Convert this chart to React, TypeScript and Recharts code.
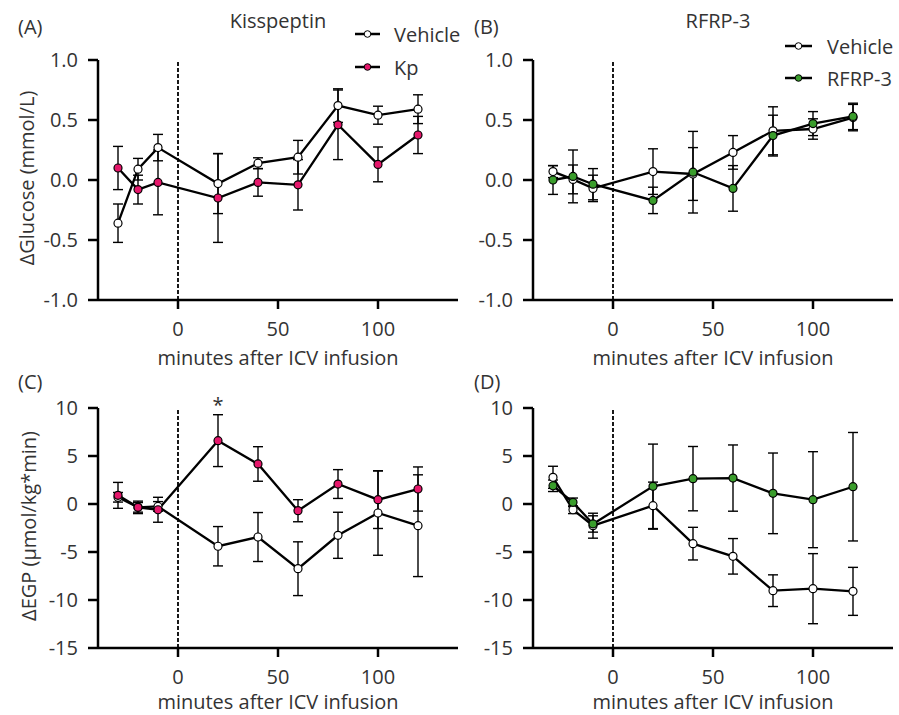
import React from 'react';
import { LineChart, Line, XAxis, YAxis, ErrorBar, ReferenceLine, Legend } from 'recharts';

// ---- data ----
const minutes = [-30, -20, -10, 20, 40, 60, 80, 100, 120];

// (A) Kisspeptin – ΔGlucose
const glucVehA = [-0.36, 0.09, 0.27, -0.03, 0.14, 0.19, 0.62, 0.54, 0.59];
const glucVehAErr = [0.16, 0.09, 0.11, 0.25, 0.045, 0.14, 0.14, 0.075, 0.12];
const glucKp = [0.1, -0.08, -0.02, -0.15, -0.02, -0.04, 0.46, 0.13, 0.375];
const glucKpErr = [0.18, 0.12, 0.27, 0.37, 0.115, 0.21, 0.29, 0.145, 0.155];

// (B) RFRP-3 – ΔGlucose
const glucVehB = [0.07, 0.005, -0.07, 0.07, 0.05, 0.23, 0.41, 0.425, 0.52];
const glucVehBErr = [0.05, 0.12, 0.11, 0.19, 0.22, 0.14, 0.2, 0.085, 0.11];
const glucRfrp = [0.0, 0.03, -0.035, -0.17, 0.065, -0.07, 0.37, 0.47, 0.53];
const glucRfrpErr = [0.12, 0.22, 0.13, 0.11, 0.34, 0.19, 0.17, 0.1, 0.11];

// (C) Kisspeptin – ΔEGP
const egpVehC = [0.7, -0.35, -0.25, -4.4, -3.44, -6.74, -3.26, -0.94, -2.26];
const egpVehCErr = [0.5, 0.5, 0.5, 2.05, 2.55, 2.8, 2.4, 4.4, 5.3];
const egpKp = [0.9, -0.35, -0.6, 6.6, 4.17, -0.7, 2.08, 0.45, 1.56];
const egpKpErr = [1.35, 0.65, 1.3, 2.7, 1.8, 1.15, 1.5, 3.0, 2.3];

// (D) RFRP-3 – ΔEGP
const egpVehD = [2.78, -0.6, -2.26, -0.17, -4.13, -5.45, -9.03, -8.82, -9.1];
const egpVehDErr = [1.15, 0.4, 1.3, 2.45, 1.7, 1.85, 1.65, 3.65, 2.5];
const egpRfrp = [1.9, 0.17, -2.08, 1.84, 2.64, 2.7, 1.11, 0.45, 1.8];
const egpRfrpErr = [0.6, 0.45, 0.85, 4.4, 3.35, 3.45, 4.2, 5.0, 5.65];

const xTicks = [0, 50, 100];
const glucoseTicks = [-1, -0.5, 0, 0.5, 1];
const egpTicks = [-15, -10, -5, 0, 5, 10];

const legendKp = ['Vehicle', 'Kp'];
const legendRfrp = ['Vehicle', 'RFRP-3'];

// ---- styles ----
const FONT = "'Open Sans', 'Noto Sans', sans-serif";
const TEXT = '#333';
const PINK = '#e5176b';
const GREEN = '#3a9d2c';
const FS = 20;

type Row = { t: number; veh: number; vehErr: number; trt: number; trtErr: number };

function buildRows(veh: number[], vehErr: number[], trt: number[], trtErr: number[]): Row[] {
  return minutes.map((t, i) => ({ t, veh: veh[i], vehErr: vehErr[i], trt: trt[i], trtErr: trtErr[i] }));
}

const LegendBox = ({ labels, fill, lineX, textX, rows }: { labels: string[]; fill: string; lineX: [number, number]; textX: number; rows: number[] }) => (
  <svg width={130} height={80} style={{ overflow: 'visible' }}>
    {labels.map((lab, i) => (
      <g key={lab}>
        <line x1={lineX[0]} x2={lineX[1]} y1={rows[i]} y2={rows[i]} stroke="#000" strokeWidth={2.5} />
        <circle cx={(lineX[0] + lineX[1]) / 2} cy={rows[i]} r={3.3} fill={i === 0 ? '#fff' : fill} stroke="#000" strokeWidth={1} />
        <text x={textX} y={rows[i] + 8} fontSize={FS} fill={TEXT} fontFamily={FONT}>
          {lab}
        </text>
      </g>
    ))}
  </svg>
);

type PanelProps = {
  left: number;
  top: number;
  rows: Row[];
  color: string;
  domain: [number, number];
  ticks: number[];
  fmt: (v: number) => string;
  legend?: { labels: string[]; left: number; top: number; lineX: [number, number]; textX: number; rows: number[] };
};

function Panel({ left, top, rows, color, domain, ticks, fmt, legend }: PanelProps) {
  const tickStyle = { fontSize: FS, fill: TEXT, fontFamily: FONT };
  return (
    <div style={{ position: 'absolute', left, top }}>
      <LineChart width={460} height={360} data={rows} margin={{ top: 60, right: 2, bottom: 0, left: 38 }}>
        <XAxis
          dataKey="t"
          type="number"
          domain={[-40, 140]}
          ticks={xTicks}
          allowDataOverflow
          height={60}
          axisLine={{ stroke: '#000', strokeWidth: 2.5 }}
          tickLine={{ stroke: '#000', strokeWidth: 2.5 }}
          tickSize={9}
          tickMargin={13}
          tick={tickStyle}
        />
        <YAxis
          type="number"
          domain={domain}
          ticks={ticks}
          allowDataOverflow
          tickFormatter={fmt}
          width={60}
          axisLine={{ stroke: '#000', strokeWidth: 2.5 }}
          tickLine={{ stroke: '#000', strokeWidth: 2.5 }}
          tickSize={10}
          tickMargin={10}
          tick={tickStyle}
        />
        <ReferenceLine x={0} stroke="#000" strokeWidth={1.8} strokeDasharray="4 2" />
        <Line
          dataKey="veh"
          type="linear"
          stroke="#000"
          strokeWidth={2.3}
          dot={{ r: 4, fill: '#fff', stroke: '#000', strokeWidth: 1.2 }}
          activeDot={false}
          isAnimationActive={false}
        >
          <ErrorBar dataKey="vehErr" direction="y" width={5} stroke="#000" strokeWidth={1.4} isAnimationActive={false} />
        </Line>
        <Line
          dataKey="trt"
          type="linear"
          stroke="#000"
          strokeWidth={2.3}
          dot={{ r: 4, fill: color, stroke: '#000', strokeWidth: 1.2 }}
          activeDot={false}
          isAnimationActive={false}
        >
          <ErrorBar dataKey="trtErr" direction="y" width={5} stroke="#000" strokeWidth={1.4} isAnimationActive={false} />
        </Line>
        {legend && (
          <Legend
            layout="horizontal"
            align="center"
            verticalAlign="middle"
            wrapperStyle={{ position: 'absolute', left: legend.left, top: legend.top, width: 130, height: 80, bottom: 'auto', right: 'auto' }}
            content={() => (
              <LegendBox labels={legend.labels} fill={color} lineX={legend.lineX} textX={legend.textX} rows={legend.rows} />
            )}
          />
        )}
      </LineChart>
    </div>
  );
}

const fmt1 = (v: number) => v.toFixed(1);
const fmt0 = (v: number) => String(v);

export default function App() {
  const rowsA = buildRows(glucVehA, glucVehAErr, glucKp, glucKpErr);
  const rowsB = buildRows(glucVehB, glucVehBErr, glucRfrp, glucRfrpErr);
  const rowsC = buildRows(egpVehC, egpVehCErr, egpKp, egpKpErr);
  const rowsD = buildRows(egpVehD, egpVehDErr, egpRfrp, egpRfrpErr);
  const t = { fontSize: FS, fill: TEXT, fontFamily: FONT } as const;
  return (
    <div style={{ position: 'absolute', left: 0, top: 0, width: 899, height: 715, background: '#fff', fontFamily: FONT, overflow: 'hidden' }}>
      <Panel
        left={0}
        top={0}
        rows={rowsA}
        color={PINK}
        domain={[-1, 1]}
        ticks={glucoseTicks}
        fmt={fmt1}
        legend={{ labels: legendKp, left: 350, top: 15, lineX: [5, 30], textX: 44, rows: [19, 52] }}
      />
      <Panel
        left={435}
        top={0}
        rows={rowsB}
        color={GREEN}
        domain={[-1, 1]}
        ticks={glucoseTicks}
        fmt={fmt1}
        legend={{ labels: legendRfrp, left: 345, top: 28, lineX: [5, 32], textX: 47, rows: [18, 50] }}
      />
      <Panel left={0} top={348} rows={rowsC} color={PINK} domain={[-15, 10]} ticks={egpTicks} fmt={fmt0} />
      <Panel left={435} top={348} rows={rowsD} color={GREEN} domain={[-15, 10]} ticks={egpTicks} fmt={fmt0} />
      <svg width={899} height={715} style={{ position: 'absolute', left: 0, top: 0, pointerEvents: 'none' }}>
        <text x={18} y={34} {...t}>(A)</text>
        <text x={474} y={34} {...t}>(B)</text>
        <text x={18} y={389} {...t}>(C)</text>
        <text x={474} y={389} {...t}>(D)</text>
        <text x={278} y={28} textAnchor="middle" {...t}>Kisspeptin</text>
        <text x={718} y={28} textAnchor="middle" {...t}>RFRP-3</text>
        <text x={278} y={365} textAnchor="middle" {...t}>minutes after ICV infusion</text>
        <text x={713} y={365} textAnchor="middle" {...t}>minutes after ICV infusion</text>
        <text x={278} y={709} textAnchor="middle" {...t}>minutes after ICV infusion</text>
        <text x={713} y={709} textAnchor="middle" {...t}>minutes after ICV infusion</text>
        <text transform="translate(34,178) rotate(-90)" textAnchor="middle" {...t}>ΔGlucose (mmol/L)</text>
        <text transform="translate(36,526) rotate(-90)" textAnchor="middle" {...t}>ΔEGP (μmol/kg*min)</text>
        <text x={218} y={412} textAnchor="middle" {...t}>*</text>
      </svg>
    </div>
  );
}
